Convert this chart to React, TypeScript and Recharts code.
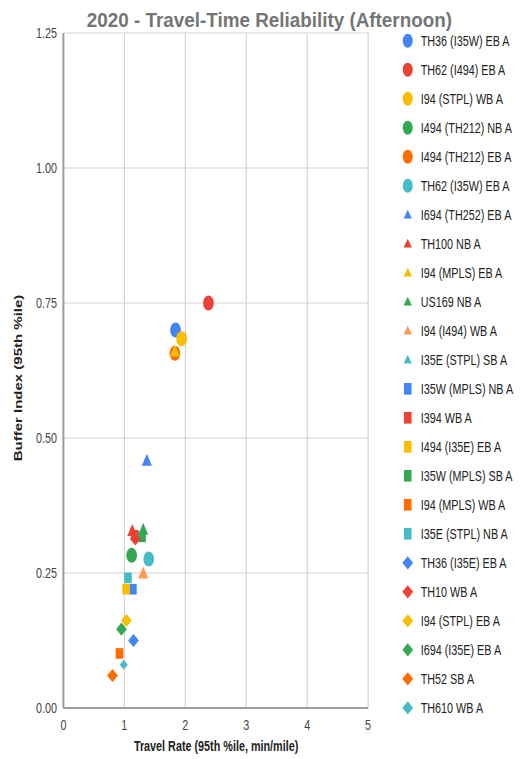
import React from 'react';
import { ScatterChart, Scatter, XAxis, YAxis, CartesianGrid, Legend } from 'recharts';

// ---------- data ----------
const seriesNames = [
  'TH36 (I35W) EB A',
  'TH62 (I494) EB A',
  'I94 (STPL) WB A',
  'I494 (TH212) NB A',
  'I494 (TH212) EB A',
  'TH62 (I35W) EB A',
  'I694 (TH252) EB A',
  'TH100 NB A',
  'I94 (MPLS) EB A',
  'US169 NB A',
  'I94 (I494) WB A',
  'I35E (STPL) SB A',
  'I35W (MPLS) NB A',
  'I394 WB A',
  'I494 (I35E) EB A',
  'I35W (MPLS) SB A',
  'I94 (MPLS) WB A',
  'I35E (STPL) NB A',
  'TH36 (I35E) EB A',
  'TH10 WB A',
  'I94 (STPL) EB A',
  'I694 (I35E) EB A',
  'TH52 SB A',
  'TH610 WB A',
];

const travelRate: (number | null)[] = [
  1.84, 2.38, 1.94, 1.12, 1.83, 1.40,
  1.37, 1.13, 1.83, 1.31, 1.31, null,
  1.14, 1.17, 1.03, 1.29, 0.92, 1.06,
  1.15, 1.18, 1.035, 0.953, 0.806, 0.99,
];

const bufferIndex: (number | null)[] = [
  0.700, 0.750, 0.684, 0.283, 0.657, 0.276,
  0.458, 0.328, 0.660, 0.330, 0.249, null,
  0.220, 0.320, 0.220, 0.317, 0.101, 0.241,
  0.125, 0.313, 0.162, 0.146, 0.060, 0.080,
];

const xTicks = [0, 1, 2, 3, 4, 5];
const yTicks = [0, 0.25, 0.5, 0.75, 1, 1.25];

const chartTitle = '2020 - Travel-Time Reliability (Afternoon)';
const xTitle = 'Travel Rate (95th %ile, min/mile)';
const yTitle = 'Buffer Index (95th %ile)';

// ---------- styles ----------
const PALETTE = ['#4285F4', '#EA4335', '#FBBC04', '#34A853', '#FF6D01', '#46BDC6'];
const SHAPES = ['circle', 'triangle', 'square', 'diamond'];
const colorOverrides: Record<number, string> = { 10: '#FF9A52' };
const pointScale: Record<number, number> = { 23: 0.75 };

const FONT = "'Liberation Sans', Arial, sans-serif";
const W = 726;
const H = 759;
const SX = 523 / W;

const colorOf = (i: number) => colorOverrides[i] ?? PALETTE[i % 6];
const shapeOf = (i: number) => SHAPES[Math.floor(i / 6)];

function marker(kind: string, cx: number, cy: number, fill: string, scale = 1, legend = false) {
  if (cx == null || cy == null) return <g />;
  if (kind === 'circle') {
    return <circle cx={cx} cy={cy} r={(legend ? 7 : 7.5) * scale} fill={fill} />;
  }
  if (kind === 'triangle') {
    const hw = (legend ? 5.8 : 7) * scale;
    const up = (legend ? 5 : 7) * scale;
    const dn = (legend ? 3.6 : 5) * scale;
    return <path d={`M${cx},${cy - up}L${cx + hw},${cy + dn}L${cx - hw},${cy + dn}Z`} fill={fill} />;
  }
  if (kind === 'square') {
    const hw = 5.3 * scale;
    const hh = (legend ? 5.8 : 5.3) * scale;
    return <rect x={cx - hw} y={cy - hh} width={hw * 2} height={hh * 2} fill={fill} />;
  }
  const hw = 7.5 * scale;
  const hh = 6.6 * scale;
  return <path d={`M${cx},${cy - hh}L${cx + hw},${cy}L${cx},${cy + hh}L${cx - hw},${cy}Z`} fill={fill} />;
}

const LEG_LEFT = 540;
const LEG_TOP = 20;

function LegendContent() {
  return (
    <svg width={186} height={720} style={{ display: 'block', overflow: 'visible' }}>
      {seriesNames.map((name, i) => {
        const cy = 20.8 + 29 * i;
        return (
          <g key={name}>
            {marker(shapeOf(i), 26, cy, colorOf(i), 1, true)}
            <text x={44} y={cy} dy="0.36em" fontSize={15} fill="#222" fontFamily={FONT}>
              {name}
            </text>
          </g>
        );
      })}
    </svg>
  );
}

export default function App() {
  const series = seriesNames.map((name, i) => ({
    name,
    data: travelRate[i] != null && bufferIndex[i] != null ? [{ x: travelRate[i], y: bufferIndex[i] }] : [],
  }));

  return (
    <div style={{ position: 'absolute', left: 0, top: 0, width: 523, height: H, overflow: 'hidden', background: '#fff' }}>
      <div style={{ position: 'absolute', left: 0, top: 0, width: W, height: H, transform: `scaleX(${SX})`, transformOrigin: '0 0', fontFamily: FONT }}>
        <ScatterChart width={W} height={H} margin={{ top: 33, right: 215, bottom: 11, left: 0 }}>
          <CartesianGrid vertical={false} stroke="#cccccc" strokeWidth={1} />
          <CartesianGrid horizontal={false} stroke="#cccccc" strokeWidth={1.4} />
          <XAxis
            type="number"
            dataKey="x"
            domain={[0, 5]}
            ticks={xTicks}
            allowDataOverflow
            height={40}
            tickLine={false}
            tickSize={0}
            tickMargin={11}
            axisLine={{ stroke: '#9e9e9e', strokeWidth: 2 }}
            tick={{ fontSize: 15, fill: '#444', fontFamily: FONT }}
          />
          <YAxis
            type="number"
            dataKey="y"
            domain={[0, 1.25]}
            ticks={yTicks}
            allowDataOverflow
            width={88}
            tickLine={false}
            tickSize={0}
            tickMargin={9}
            axisLine={{ stroke: '#9e9e9e', strokeWidth: 2.8 }}
            tick={{ fontSize: 15, fill: '#444', fontFamily: FONT }}
            tickFormatter={(v: number) => v.toFixed(2)}
          />
          <Legend
            layout="vertical"
            align="center"
            verticalAlign="middle"
            wrapperStyle={{ left: LEG_LEFT, top: LEG_TOP, width: 186, height: 720 }}
            content={() => <LegendContent />}
          />
          {series.map((s, i) => (
            <Scatter
              key={s.name}
              name={s.name}
              data={s.data}
              fill={colorOf(i)}
              isAnimationActive={false}
              shape={(p: any) => marker(shapeOf(i), p.cx, p.cy, colorOf(i), pointScale[i] ?? 1)}
            />
          ))}
        </ScatterChart>
        <svg width={W} height={H} style={{ position: 'absolute', left: 0, top: 0, pointerEvents: 'none' }}>
          <text x={374} y={27} textAnchor="middle" fontSize={21} fontWeight="bold" fill="#757575" fontFamily={FONT} textLength={507} lengthAdjust="spacingAndGlyphs">
            {chartTitle}
          </text>
          <text x={300} y={751.5} textAnchor="middle" fontSize={15} fontWeight="bold" fill="#222" fontFamily={FONT}>
            {xTitle}
          </text>
          <text transform="translate(31,378) rotate(-90)" textAnchor="middle" fontSize={15} fontWeight="bold" fill="#222" fontFamily={FONT}>
            {yTitle}
          </text>
        </svg>
      </div>
    </div>
  );
}
